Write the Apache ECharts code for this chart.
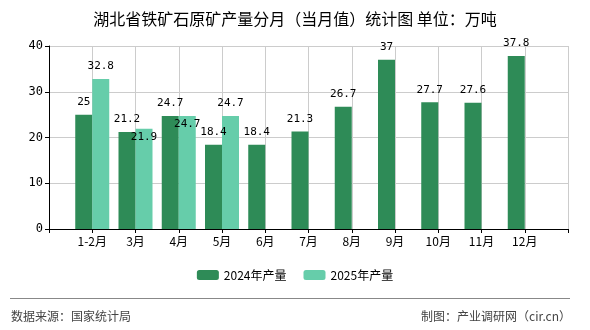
<!DOCTYPE html>
<html><head><meta charset="utf-8">
<script src="https://cdn.jsdelivr.net/npm/echarts@6/dist/echarts.min.js"></script>
<style>html,body{margin:0;padding:0;background:#fff}#c{width:590px;height:330px}</style>
</head><body><div id="c"></div>
<script>
var categories = ['1-2月','3月','4月','5月','6月','7月','8月','9月','10月','11月','12月'];
var values2024 = [25, 21.2, 24.7, 18.4, 18.4, 21.3, 26.7, 37, 27.7, 27.6, 37.8];
var values2025 = [32.8, 21.9, 24.7, 24.7, null, null, null, null, null, null, null];
var seriesNames = ['2024年产量', '2025年产量'];
var yTicks = [0, 10, 20, 30, 40];

var axisCats = [''].concat(categories, ['']);
function pad(a){ return [null].concat(a, [null]); }
var p2024 = pad(values2024), p2025 = pad(values2025);
var font = 'Noto Sans CJK SC';
var labelFont = 'DejaVu Sans Mono';
var chart = echarts.init(document.getElementById('c'), null, {renderer:'canvas'});
chart.setOption({
  animation: false,
  title: { text: '湖北省铁矿石原矿产量分月（当月值）统计图 单位：万吨', left: 'center', top: 6,
    textStyle: { fontSize: 16, fontWeight: 'normal', color: '#000', fontFamily: font } },
  grid: { left: 49, right: 22, top: 46, bottom: 101 },
  legend: { bottom: 44, left: 'center', itemWidth: 22, itemHeight: 10, itemGap: 17,
    textStyle: { fontSize: 12, color: '#000', fontFamily: font }, data: seriesNames },
  xAxis: { type: 'category', data: axisCats, boundaryGap: false,
    axisLine: { lineStyle: { color: '#000' } },
    axisTick: { show: true, length: 4, lineStyle: { color: '#000' }, interval: 0 },
    axisLabel: { color: '#000', fontSize: 12, fontFamily: font, margin: 6, interval: 0 },
    splitLine: { show: true, lineStyle: { color: '#ccc' } } },
  yAxis: { type: 'value', min: yTicks[0], max: yTicks[yTicks.length-1], interval: 10,
    axisLine: { show: true, lineStyle: { color: '#000' } },
    axisTick: { show: true, length: 4, lineStyle: { color: '#000' } },
    axisLabel: { color: '#000', fontSize: 12, fontFamily: labelFont, margin: 6 },
    splitLine: { lineStyle: { color: '#ccc' } } },
  series: [
    { name: seriesNames[0], type: 'bar', data: p2024, barWidth: 17, barGap: 0,
      itemStyle: { color: '#2E8B57' },
      label: { show: true, position: 'top', distance: 7, color: '#000', fontSize: 11, fontFamily: labelFont } },
    { name: seriesNames[1], type: 'bar', data: p2025, barWidth: 17, barGap: 0,
      itemStyle: { color: '#66CDAA' },
      label: { show: true, position: 'top', distance: 7, color: '#000', fontSize: 11, fontFamily: labelFont },
      labelLayout: function (params) {
        var i = params.dataIndex;
        var a = p2024[i], b = p2025[i];
        if (a != null && b != null && Math.abs(a - b) < 3) {
          return { x: params.rect.x + params.rect.width / 2, y: params.rect.y + 8,
                   align: 'center', verticalAlign: 'middle' };
        }
        return {};
      } }
  ],
  graphic: [
    { type: 'line', shape: { x1: 10, y1: 298.5, x2: 570, y2: 298.5 }, style: { stroke: '#888', lineWidth: 1 } },
    { type: 'text', left: 11, top: 310, style: { text: '数据来源：国家统计局', font: '12px "Noto Sans CJK SC"', fill: '#444' } },
    { type: 'text', right: 19, top: 310, style: { text: '制图：产业调研网（cir.cn）', font: '12px "Noto Sans CJK SC"', fill: '#444' } }
  ]
});
</script></body></html>
